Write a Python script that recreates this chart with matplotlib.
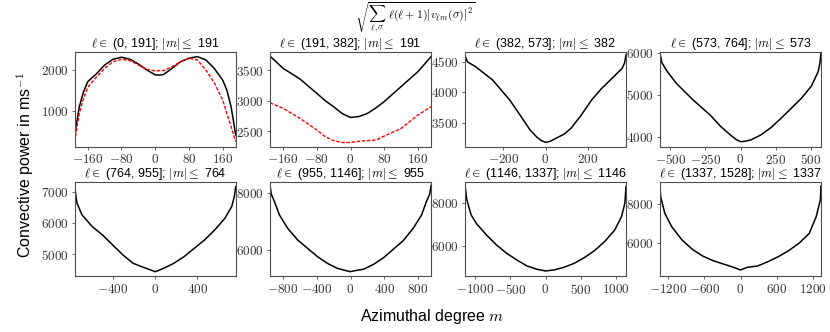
import numpy as np
import matplotlib
matplotlib.use("Agg")
import matplotlib.pyplot as plt
from matplotlib.ticker import FuncFormatter

plt.rcParams['font.family'] = ['Liberation Sans', 'DejaVu Sans']
plt.rcParams['mathtext.fontset'] = 'cm'

# l bands and |m| limits of each panel
bands = [(0, 191), (191, 382), (382, 573), (573, 764),
         (764, 955), (955, 1146), (1146, 1337), (1337, 1528)]
m_max = [191, 191, 382, 573, 764, 955, 1146, 1337]

# tick positions
xticks = [[-160, -80, 0, 80, 160], [-160, -80, 0, 80, 160], [-200, 0, 200],
          [-500, -250, 0, 250, 500], [-400, 0, 400], [-800, -400, 0, 400, 800],
          [-1000, -500, 0, 500, 1000], [-1200, -600, 0, 600, 1200]]
yticks = [[1000, 2000], [2500, 3000, 3500], [3500, 4000, 4500],
          [4000, 5000, 6000], [5000, 6000, 7000], [6000, 8000],
          [6000, 8000], [6000, 8000]]
ylims = [(130, 2430), (2246, 3792), (3104, 4659), (3760, 6024),
         (4281, 7340), (5081, 8372), (4551, 9008), (4308, 9145)]

# black curves (m, power)
m1 = [-191, -185, -180, -170, -160, -140, -120, -100, -80, -60, -40, -20, 0, 10, 20,
      40, 60, 80, 100, 120, 140, 160, 170, 180, 185, 191]
p1 = [415, 800, 1105, 1470, 1715, 1900, 2120, 2260, 2310, 2260, 2145, 2000, 1880,
      1875, 1890, 2040, 2200, 2285, 2325, 2245, 2040, 1755, 1510, 1105, 800, 415]
m1r = [-191, -185, -180, -170, -160, -140, -120, -100, -80, -60, -40, -20, 0, 20,
       40, 60, 80, 100, 120, 140, 160, 170, 180, 185, 191]
p1r = [250, 650, 940, 1310, 1580, 1820, 2040, 2200, 2260, 2230, 2120, 2015, 1975,
       1985, 2080, 2200, 2285, 2245, 2000, 1690, 1270, 940, 620, 450, 250]

m2 = [-191, -160, -120, -80, -60, -40, -20, 0, 20, 40, 60, 80, 120, 160, 191]
p2 = [3730, 3530, 3355, 3120, 3000, 2900, 2790, 2725, 2740, 2790, 2880, 2985,
      3230, 3475, 3720]
m2r = [-191, -160, -120, -80, -60, -40, -20, 0, 20, 40, 60, 80, 120, 160, 191]
p2r = [2965, 2875, 2710, 2520, 2410, 2345, 2315, 2315, 2335, 2345, 2355, 2420,
       2545, 2765, 2900]

m3 = [-382, -370, -332, -251, -170, -121, -73, -40, -20, 0, 20, 40, 89, 121, 170,
      219, 267, 316, 364, 375, 382]
p3 = [4599, 4500, 4423, 4203, 3874, 3626, 3379, 3258, 3205, 3175, 3190, 3225,
      3313, 3407, 3626, 3874, 4066, 4231, 4396, 4480, 4615]

m4 = [-573, -560, -529, -457, -337, -216, -144, -72, -30, 0, 30, 72, 144, 216,
      288, 361, 433, 505, 553, 565, 573]
p4 = [6000, 5780, 5600, 5280, 4880, 4520, 4256, 4040, 3930, 3880, 3890, 3920,
      4040, 4216, 4440, 4680, 4920, 5216, 5560, 5760, 6000]

m5 = [-764, -755, -742, -694, -597, -500, -403, -306, -210, -113, -30, 0, 30,
      81, 177, 274, 371, 468, 565, 661, 726, 750, 764]
p5 = [7243, 6950, 6649, 6270, 5892, 5622, 5297, 4973, 4703, 4573, 4470, 4430,
      4470, 4541, 4703, 4919, 5189, 5459, 5784, 6162, 6541, 6850, 7189]

m6 = [-955, -940, -902, -843, -745, -627, -510, -392, -275, -157, -39, 0, 39,
      157, 275, 392, 510, 627, 745, 843, 902, 940, 955]
p6 = [8267, 7950, 7686, 7221, 6756, 6349, 6058, 5767, 5535, 5360, 5267, 5244,
      5270, 5330, 5500, 5730, 6030, 6330, 6760, 7220, 7700, 7950, 8250]

m7 = [-1146, -1120, -1058, -986, -841, -697, -553, -409, -264, -120, 0, 120,
      264, 409, 553, 697, 841, 986, 1082, 1130, 1146]
p7 = [8866, 8157, 7449, 7055, 6504, 6031, 5638, 5323, 5039, 4882, 4803, 4850,
      4976, 5165, 5433, 5764, 6189, 6740, 7370, 8000, 8787]

m8 = [-1337, -1326, -1257, -1143, -971, -800, -629, -457, -286, -114, 0, 114,
      286, 457, 629, 800, 971, 1143, 1257, 1326, 1337]
p8 = [8950, 8393, 7538, 6855, 6171, 5692, 5350, 5111, 4940, 4769, 4632, 4769,
      4838, 5060, 5316, 5624, 6000, 6513, 7368, 8222, 8950]

black = [(m1, p1), (m2, p2), (m3, p3), (m4, p4), (m5, p5), (m6, p6), (m7, p7), (m8, p8)]
red = {0: (m1r, p1r), 1: (m2r, p2r)}

fig = plt.figure(figsize=(8.3, 3.32), dpi=100)
W, H = 830, 332
lefts = [74.7, 270, 465, 660]
width = 161
rows = [(52.3, 146.7), (182, 276.3)]

spine_col = '0.3'
fmt = FuncFormatter(lambda v, pos: r'$%d$' % v)

for i in range(8):
    r, c = divmod(i, 4)
    top, bot = rows[r]
    ax = fig.add_axes([lefts[c] / W, 1 - bot / H, width / W, (bot - top) / H])
    m, p = black[i]
    ax.plot(m, p, color='black', lw=1.1)
    if i in red:
        mr, pr = red[i]
        ax.plot(mr, pr, color='red', lw=1.0, ls=(0, (2.5, 1.2)))
    ax.set_xlim(-m_max[i], m_max[i])
    ax.set_ylim(*ylims[i])
    ax.set_xticks(xticks[i])
    ax.set_yticks(yticks[i])
    ax.xaxis.set_major_formatter(fmt)
    ax.yaxis.set_major_formatter(fmt)
    ax.tick_params(labelsize=9.5, length=2.5, width=0.6, color=spine_col,
                   labelcolor='0.2', pad=2)
    for s in ax.spines.values():
        s.set_color(spine_col)
        s.set_linewidth(0.8)
    lo, hi = bands[i]
    ax.set_title(r'$\ell \in$' + f' ({lo}, {hi}]; ' + r'$|m| \leq$' + f' {m_max[i]}',
                 fontsize=9, pad=1)

fig.text(415 / W, 1.0,
         r'$\sqrt{\sum_{\ell,\sigma}\ \ell(\ell+1)|v_{\ell m}(\sigma)|^2}$',
         ha='center', va='top', fontsize=8.6)
fig.text(25 / W, 1 - 165 / H, r'Convective power in ms$^{-1}$',
         rotation=90, ha='center', va='center', fontsize=11.5)
fig.text(432 / W, 1 - 317 / H, r'Azimuthal degree $m$',
         ha='center', va='center', fontsize=11.5)

fig.savefig('out.png', dpi=100)
